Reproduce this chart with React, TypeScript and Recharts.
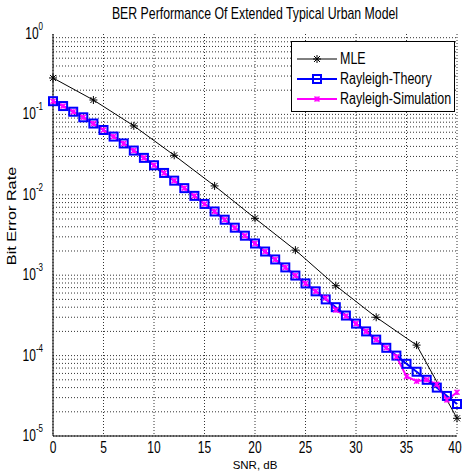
import React from "react";
import {
  LineChart,
  Line,
  XAxis,
  YAxis,
  CartesianGrid,
  ReferenceLine,
} from "recharts";

// SNR in dB, one step per point
const snr = [
  0, 1, 2, 3, 4, 5, 6, 7, 8, 9, 10, 11, 12, 13, 14, 15, 16, 17, 18, 19, 20,
  21, 22, 23, 24, 25, 26, 27, 28, 29, 30, 31, 32, 33, 34, 35, 36, 37, 38, 39, 40,
];

// MLE only measured every 4 dB
const mleSnr = [0, 4, 8, 12, 16, 20, 24, 28, 32, 36, 40];
const mleBer = [
  0.284, 0.151, 0.072, 0.031, 0.0129, 0.0051, 0.00205, 0.00074, 0.0003,
  0.000135, 1.66e-5,
];

const theoryBer = [
  0.146, 0.127, 0.108, 0.092, 0.077, 0.064, 0.053, 0.0435, 0.0355, 0.0288,
  0.0233, 0.0187, 0.015, 0.0121, 0.0097, 0.0077, 0.0062, 0.0049, 0.0039,
  0.0031, 0.00248, 0.00197, 0.00157, 0.00125, 0.00099, 0.00079, 0.00063,
  0.0005, 0.0004, 0.000315, 0.00025, 0.0002, 0.000158, 0.000125, 0.0001,
  7.9e-5, 6.3e-5, 5.0e-5, 4.0e-5, 3.15e-5, 2.5e-5,
];

const simBer = [
  0.146, 0.127, 0.108, 0.092, 0.077, 0.064, 0.053, 0.0435, 0.0355, 0.0288,
  0.0233, 0.0187, 0.015, 0.0121, 0.0097, 0.0077, 0.0062, 0.0049, 0.0039,
  0.0031, 0.00248, 0.00197, 0.00157, 0.00125, 0.00099, 0.00079, 0.00063,
  0.00052, 0.00037, 0.00031, 0.00025, 0.0002, 0.000158, 0.000125, 9.7e-5,
  5.5e-5, 4.8e-5, 5.0e-5, 4.4e-5, 2.8e-5, 3.5e-5,
];

const xTicks = [0, 5, 10, 15, 20, 25, 30, 35, 40];
const yTicks = [1e-5, 1e-4, 1e-3, 1e-2, 1e-1, 1];
const decades = [-5, -4, -3, -2, -1];

const gridY: number[] = [];
decades.forEach((d) => {
  for (let k = 1; k <= 9; k++) gridY.push(k * Math.pow(10, d));
});

const data = snr.map((s, i) => {
  const m = mleSnr.indexOf(s);
  return {
    snr: s,
    mle: m >= 0 ? mleBer[m] : null,
    theory: theoryBer[i],
    sim: simBer[i],
  };
});

const FONT = "'Liberation Sans', Arial, sans-serif";
// the source image is stretched vertically, text looks tall
const STRETCH = 1.3;

function Star({ cx, cy, color }: any) {
  const r = 4;
  return (
    <g stroke={color} strokeWidth={1}>
      <line x1={cx - r} y1={cy} x2={cx + r} y2={cy} />
      <line x1={cx} y1={cy - r} x2={cx} y2={cy + r} />
      <line x1={cx - 3} y1={cy - 3} x2={cx + 3} y2={cy + 3} />
      <line x1={cx - 3} y1={cy + 3} x2={cx + 3} y2={cy - 3} />
    </g>
  );
}

function Square({ cx, cy }: any) {
  return (
    <rect
      x={cx - 4}
      y={cy - 4}
      width={8}
      height={8}
      fill="none"
      stroke="#0000ff"
      strokeWidth={2}
    />
  );
}

function Cross({ cx, cy }: any) {
  const r = 2.5;
  return (
    <g stroke="#ff00ff" strokeWidth={1.5}>
      <line x1={cx - r} y1={cy - r} x2={cx + r} y2={cy + r} />
      <line x1={cx - r} y1={cy + r} x2={cx + r} y2={cy - r} />
      <line x1={cx} y1={cy - r} x2={cx} y2={cy + r} />
    </g>
  );
}

const mleDot = (p: any) =>
  p.value == null || p.cy == null ? (
    <g key={p.key} />
  ) : (
    <g key={p.key}>
      <Star cx={p.cx} cy={p.cy} color="#000" />
    </g>
  );
const theoryDot = (p: any) => (
  <g key={p.key}>
    <Square cx={p.cx} cy={p.cy} />
  </g>
);
const simDot = (p: any) => (
  <g key={p.key}>
    <Cross cx={p.cx} cy={p.cy} />
  </g>
);

function YTick({ x, y, payload }: any) {
  const exp = Math.round(Math.log10(payload.value));
  return (
    <text
      transform={`translate(${x - 2},${y + 5}) scale(1,${STRETCH})`}
      textAnchor="end"
      fontFamily={FONT}
      fill="#000"
    >
      <tspan fontSize={12}>10</tspan>
      <tspan fontSize={8} dy={-7}>
        {exp}
      </tspan>
    </text>
  );
}

function XTick({ x, y, payload }: any) {
  return (
    <text
      transform={`translate(${x},${y + 9}) scale(1,${STRETCH})`}
      textAnchor="middle"
      fontFamily={FONT}
      fontSize={12}
      fill="#000"
    >
      {payload.value}
    </text>
  );
}

function YLabel({ viewBox }: any) {
  const cx = 12;
  const cy = viewBox.y + viewBox.height / 2 - 19;
  return (
    <text
      transform={`translate(${cx},${cy}) rotate(-90) scale(${STRETCH},1)`}
      textAnchor="middle"
      dominantBaseline="central"
      fontFamily={FONT}
      fontSize={12.5}
      fill="#000"
    >
      Bit Error Rate
    </text>
  );
}

function XLabel({ viewBox }: any) {
  const cx = viewBox.x + viewBox.width / 2;
  return (
    <text
      x={cx}
      y={469}
      textAnchor="middle"
      fontFamily={FONT}
      fontSize={11.5}
      fill="#000"
    >
      SNR, dB
    </text>
  );
}

const legendItems = [
  { name: "MLE", color: "#000", width: 1, kind: "star" },
  { name: "Rayleigh-Theory", color: "#0000ff", width: 2, kind: "square" },
  { name: "Rayleigh-Simulation", color: "#ff00ff", width: 2, kind: "cross" },
];

function LegendBox() {
  return (
    <div
      style={{
        position: "absolute",
        top: 41,
        left: 291,
        width: 164,
        height: 71,
        border: "1px solid #000",
        background: "#fff",
        fontFamily: FONT,
        fontSize: 12.5,
        paddingTop: 7,
        boxSizing: "border-box",
        whiteSpace: "nowrap",
      }}
    >
      {legendItems.map((it) => (
        <div
          key={it.name}
          style={{ display: "flex", alignItems: "center", height: 20 }}
        >
          <svg width={44} height={14} style={{ marginLeft: 3 }}>
            <line
              x1={2}
              y1={7}
              x2={42}
              y2={7}
              stroke={it.color}
              strokeWidth={it.width}
            />
            {it.kind === "star" && <Star cx={22} cy={7} color="#000" />}
            {it.kind === "square" && <Square cx={22} cy={7} />}
            {it.kind === "cross" && <Cross cx={22} cy={7} />}
          </svg>
          <span
            style={{
              marginLeft: 1,
              display: "inline-block",
              transform: `scaleY(${STRETCH})`,
            }}
          >
            {it.name}
          </span>
        </div>
      ))}
    </div>
  );
}

export default function App() {
  return (
    <div
      style={{
        position: "absolute",
        left: 0,
        top: 0,
        width: 463,
        height: 473,
        background: "#fff",
        overflow: "hidden",
      }}
    >
      <div
        style={{
          position: "absolute",
          top: 7,
          left: 53,
          width: 404,
          textAlign: "center",
          fontFamily: FONT,
          fontSize: 12.3,
          color: "#000",
          transform: `scaleY(${STRETCH})`,
        }}
      >
        BER Performance Of Extended Typical Urban Model
      </div>
      <LineChart
        width={463}
        height={473}
        data={data}
        margin={{ top: 34, right: 6, bottom: 15, left: 8 }}
      >
        <CartesianGrid
          horizontal={false}
          stroke="#333"
          strokeDasharray="1 2"
        />
        {gridY.map((v) => (
          <ReferenceLine
            key={v}
            y={v}
            stroke="#333"
            strokeDasharray="1 2"
          />
        ))}
        <XAxis
          dataKey="snr"
          type="number"
          domain={[0, 40]}
          ticks={xTicks}
          height={22}
          tickLine={false}
          axisLine={{ stroke: "#000" }}
          tick={<XTick />}
          label={<XLabel />}
        />
        <XAxis
          xAxisId="top"
          orientation="top"
          dataKey="snr"
          type="number"
          domain={[0, 40]}
          height={0}
          tick={false}
          tickLine={false}
          axisLine={{ stroke: "#000" }}
        />
        <YAxis
          scale="log"
          domain={[1e-5, 1]}
          ticks={yTicks}
          allowDataOverflow
          width={45}
          tickLine={false}
          axisLine={{ stroke: "#000" }}
          tick={<YTick />}
          label={<YLabel />}
        />
        <YAxis
          yAxisId="right"
          orientation="right"
          scale="log"
          domain={[1e-5, 1]}
          width={0}
          tick={false}
          tickLine={false}
          axisLine={{ stroke: "#000" }}
        />
        <Line
          dataKey="mle"
          name="MLE"
          stroke="#000"
          strokeWidth={1}
          connectNulls
          dot={mleDot}
          isAnimationActive={false}
        />
        <Line
          dataKey="theory"
          name="Rayleigh-Theory"
          stroke="#0000ff"
          strokeWidth={2}
          dot={theoryDot}
          isAnimationActive={false}
        />
        <Line
          dataKey="sim"
          name="Rayleigh-Simulation"
          stroke="#ff00ff"
          strokeWidth={2}
          dot={simDot}
          isAnimationActive={false}
        />
      </LineChart>
      <LegendBox />
    </div>
  );
}
